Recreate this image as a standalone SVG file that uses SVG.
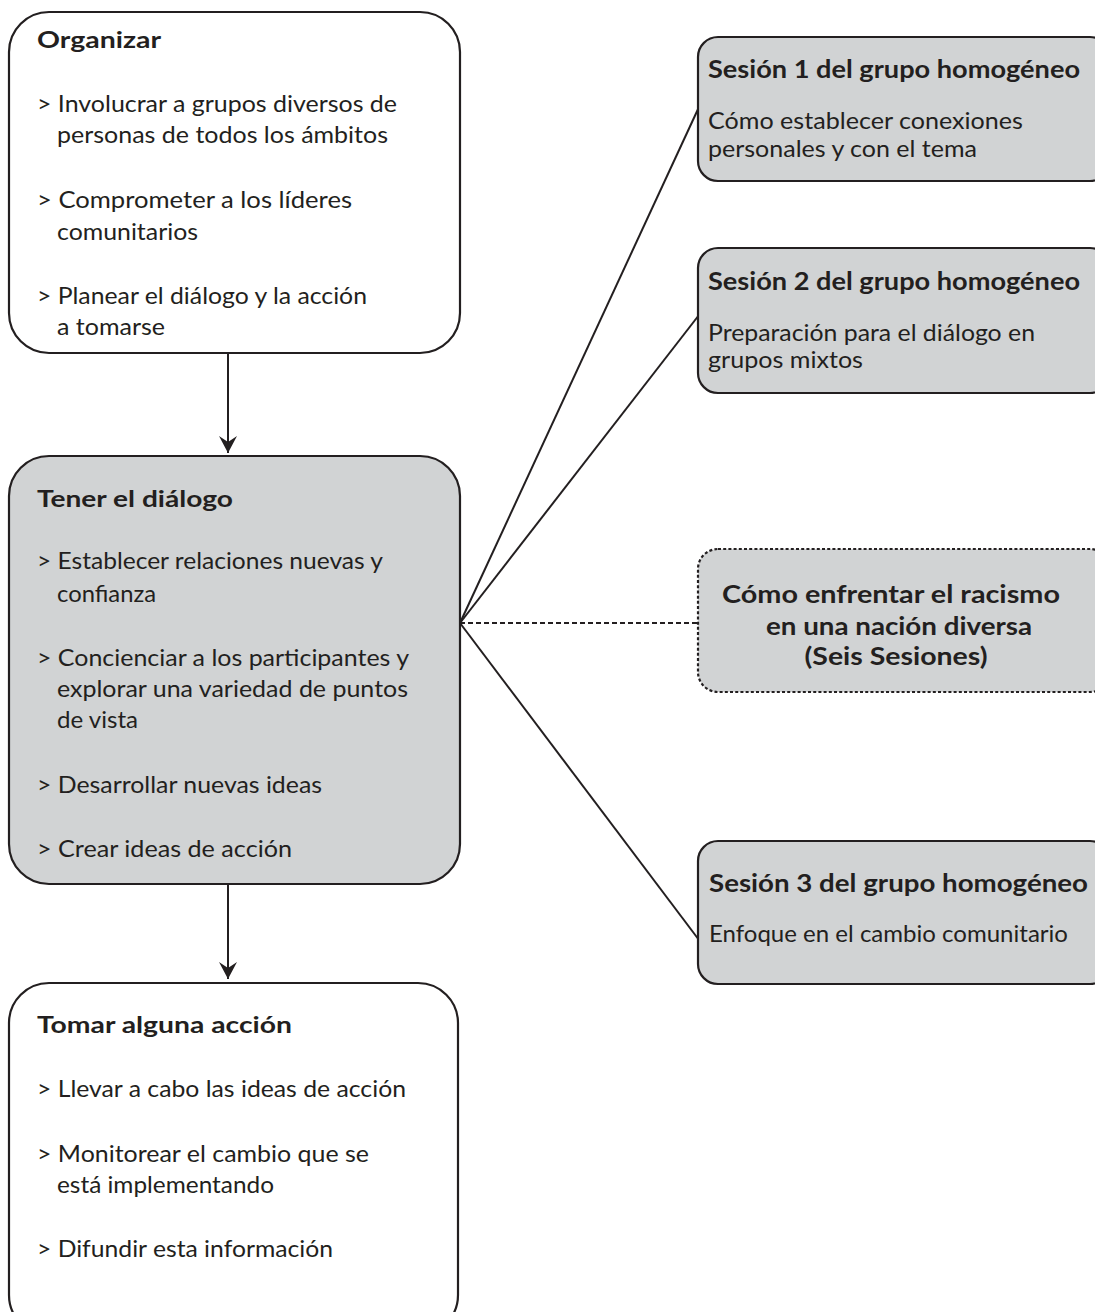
<svg xmlns="http://www.w3.org/2000/svg" width="1095" height="1312" viewBox="0 0 1095 1312">
<defs>
<style>
.box{stroke:#231f20;stroke-width:2.2;}
.white{fill:#ffffff;}
.gray{fill:#d1d3d4;}
.dotted{stroke-dasharray:3 2.2;}
text{font-family:Lato,"Open Sans","Liberation Sans",sans-serif;fill:#231f20;}
.t{font-weight:700;font-size:22px;}
.rt{font-weight:700;font-size:24px;}
.b{font-size:24px;}
.ct{font-weight:700;font-size:25px;text-anchor:middle;}
.line{stroke:#231f20;stroke-width:2;fill:none;}
.dash{stroke-dasharray:5 3;}
</style>
<marker id="arr" viewBox="0 0 18 18" refX="17" refY="9" markerWidth="18" markerHeight="18" markerUnits="userSpaceOnUse" orient="auto">
<path d="M0,0 L17,9 L0,18 L6,9 Z" fill="#231f20"/>
</marker>
</defs>
<rect width="1095" height="1312" fill="#ffffff"/>

<g id="connectors">
<line class="line" x1="228" y1="353" x2="228" y2="453" marker-end="url(#arr)"/>
<line class="line" x1="228" y1="884" x2="228" y2="979" marker-end="url(#arr)"/>
<line class="line" x1="460" y1="623" x2="699" y2="107"/>
<line class="line" x1="460" y1="623" x2="699" y2="315"/>
<line class="line dash" x1="460" y1="623" x2="698" y2="623"/>
<line class="line" x1="460" y1="623" x2="699" y2="940"/>
</g>

<g id="organizar">
<rect class="box white" x="9" y="12" width="451" height="341" rx="40"/>
<text class="t" x="37" y="48" textLength="124" lengthAdjust="spacingAndGlyphs">Organizar</text>
<text class="b" x="37" y="112" textLength="360" lengthAdjust="spacingAndGlyphs">&gt; Involucrar a grupos diversos de</text>
<text class="b" x="57" y="143" textLength="331" lengthAdjust="spacingAndGlyphs">personas de todos los ámbitos</text>
<text class="b" x="37" y="208" textLength="315" lengthAdjust="spacingAndGlyphs">&gt; Comprometer a los líderes</text>
<text class="b" x="57" y="240" textLength="141" lengthAdjust="spacingAndGlyphs">comunitarios</text>
<text class="b" x="37" y="304" textLength="330" lengthAdjust="spacingAndGlyphs">&gt; Planear el diálogo y la acción</text>
<text class="b" x="57" y="335" textLength="108" lengthAdjust="spacingAndGlyphs">a tomarse</text>
</g>

<g id="tener">
<rect class="box gray" x="9" y="456" width="451" height="428" rx="40"/>
<text class="t" x="37" y="507" textLength="196" lengthAdjust="spacingAndGlyphs">Tener el diálogo</text>
<text class="b" x="37" y="569" textLength="346" lengthAdjust="spacingAndGlyphs">&gt; Establecer relaciones nuevas y</text>
<text class="b" x="57" y="602" textLength="99" lengthAdjust="spacingAndGlyphs">confianza</text>
<text class="b" x="37" y="666" textLength="372" lengthAdjust="spacingAndGlyphs">&gt; Concienciar a los participantes y</text>
<text class="b" x="57" y="697" textLength="351" lengthAdjust="spacingAndGlyphs">explorar una variedad de puntos</text>
<text class="b" x="57" y="728" textLength="81" lengthAdjust="spacingAndGlyphs">de vista</text>
<text class="b" x="37" y="793" textLength="285" lengthAdjust="spacingAndGlyphs">&gt; Desarrollar nuevas ideas</text>
<text class="b" x="37" y="857" textLength="255" lengthAdjust="spacingAndGlyphs">&gt; Crear ideas de acción</text>
</g>

<g id="tomar">
<rect class="box white" x="9" y="983" width="449" height="352" rx="40"/>
<text class="t" x="37" y="1033" textLength="255" lengthAdjust="spacingAndGlyphs">Tomar alguna acción</text>
<text class="b" x="37" y="1097" textLength="369" lengthAdjust="spacingAndGlyphs">&gt; Llevar a cabo las ideas de acción</text>
<text class="b" x="37" y="1162" textLength="332" lengthAdjust="spacingAndGlyphs">&gt; Monitorear el cambio que se</text>
<text class="b" x="57" y="1193" textLength="217" lengthAdjust="spacingAndGlyphs">está implementando</text>
<text class="b" x="37" y="1257" textLength="296" lengthAdjust="spacingAndGlyphs">&gt; Difundir esta información</text>
</g>

<g id="sesion1">
<rect class="box gray" x="698" y="37" width="412" height="144" rx="20"/>
<text class="rt" x="708" y="78" textLength="372" lengthAdjust="spacingAndGlyphs">Sesión 1 del grupo homogéneo</text>
<text class="b" x="708" y="129" textLength="315" lengthAdjust="spacingAndGlyphs">Cómo establecer conexiones</text>
<text class="b" x="708" y="157" textLength="269" lengthAdjust="spacingAndGlyphs">personales y con el tema</text>
</g>

<g id="sesion2">
<rect class="box gray" x="698" y="248" width="412" height="145" rx="20"/>
<text class="rt" x="708" y="290" textLength="372" lengthAdjust="spacingAndGlyphs">Sesión 2 del grupo homogéneo</text>
<text class="b" x="708" y="341" textLength="327" lengthAdjust="spacingAndGlyphs">Preparación para el diálogo en</text>
<text class="b" x="708" y="368" textLength="155" lengthAdjust="spacingAndGlyphs">grupos mixtos</text>
</g>

<g id="racismo">
<rect class="box gray dotted" x="698" y="549" width="412" height="143" rx="20"/>
<text class="ct" x="891" y="603" textLength="338" lengthAdjust="spacingAndGlyphs">Cómo enfrentar el racismo</text>
<text class="ct" x="899" y="635" textLength="266" lengthAdjust="spacingAndGlyphs">en una nación diversa</text>
<text class="ct" x="896" y="665" textLength="183" lengthAdjust="spacingAndGlyphs">(Seis Sesiones)</text>
</g>

<g id="sesion3">
<rect class="box gray" x="698" y="841" width="412" height="143" rx="20"/>
<text class="rt" x="709" y="892" textLength="379" lengthAdjust="spacingAndGlyphs">Sesión 3 del grupo homogéneo</text>
<text class="b" x="709" y="942" textLength="359" lengthAdjust="spacingAndGlyphs">Enfoque en el cambio comunitario</text>
</g>
</svg>
